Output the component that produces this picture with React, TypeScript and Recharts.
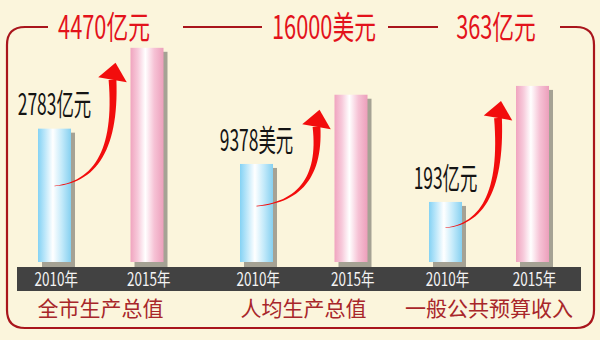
import React from 'react';
import { BarChart, Bar, XAxis, YAxis, LabelList } from 'recharts';

// ---- data ----
const years = ['2010年', '2015年'];
const groupNames = ['全市生产总值', '人均生产总值', '一般公共预算收入'];
const units = ['亿元', '美元', '亿元'];
const values2010 = [2783, 9378, 193];
const values2015 = [4470, 16000, 363];

// ---- layout ----
const W = 600;
const H = 340;
const BG = '#fbf5dc';
const FRAME = '#a9151c';
const TITLE_RED = '#e3121b';
const NAME_RED = '#a8262a';
const CJK = '"Noto Sans CJK SC", "Noto Sans", sans-serif';

// each group is its own little chart with its own value axis
const panels = [
  { left: 8, width: 185, domain: [0, 4800] as [number, number], titleX: 104 },
  { left: 209, width: 189, domain: [0, 22000] as [number, number], titleX: 324 },
  { left: 402, width: 174, domain: [105, 442] as [number, number], titleX: 496 },
];

const CHART_H = 300;
const MARGIN = { top: 32, right: 0, bottom: 8, left: 0 };

type Pt = { x: number; y: number };

function arrowPaths(p0: Pt, p1: Pt, p2: Pt, tip: Pt, headW: number) {
  const n = 30;
  const left: string[] = [];
  const right: string[] = [];
  for (let i = 0; i <= n; i++) {
    const t = i / n;
    const a = (1 - t) * (1 - t);
    const b = 2 * (1 - t) * t;
    const c = t * t;
    const x = a * p0.x + b * p1.x + c * p2.x;
    const y = a * p0.y + b * p1.y + c * p2.y;
    const dx = 2 * (1 - t) * (p1.x - p0.x) + 2 * t * (p2.x - p1.x);
    const dy = 2 * (1 - t) * (p1.y - p0.y) + 2 * t * (p2.y - p1.y);
    const len = Math.hypot(dx, dy) || 1;
    const nx = -dy / len;
    const ny = dx / len;
    const w = 0.3 + 3.6 * Math.pow(t, 1.3);
    left.push(`${(x + nx * w).toFixed(2)},${(y + ny * w).toFixed(2)}`);
    right.push(`${(x - nx * w).toFixed(2)},${(y - ny * w).toFixed(2)}`);
  }
  const body = `M${left.join(' L')} L${right.reverse().join(' L')} Z`;
  const ux = tip.x - p2.x;
  const uy = tip.y - p2.y;
  const ul = Math.hypot(ux, uy) || 1;
  const px = -uy / ul;
  const py = ux / ul;
  const head = `M${tip.x},${tip.y} L${p2.x + (px * headW) / 2},${p2.y + (py * headW) / 2} L${
    p2.x - (px * headW) / 2
  },${p2.y - (py * headW) / 2} Z`;
  return { body, head };
}

function makeBarShape(g: number, domainMin: number, step: number) {
  return (props: any) => {
    const { x, y, width, height, payload } = props;
    const is2015 = payload.year === years[1];
    const id = `bar-${g}-${is2015 ? 'b' : 'a'}`;
    const stops = is2015
      ? ['#f0a4bf', '#f7c9da', '#ffffff', '#f6c2d5', '#ec9fbb']
      : ['#84d2f4', '#bfe8fa', '#ffffff', '#c4eafa', '#86d0f0'];

    let arrow: React.ReactNode = null;
    if (is2015) {
      const base = y + height;
      const ppu = height / (payload.value - domainMin);
      const fromH = (payload.from - domainMin) * ppu;
      const p0 = { x: x + width / 2 - step, y: base - 0.57 * fromH };
      const tip = { x: x - 15, y: y + 15 };
      const p2 = { x: tip.x - 3, y: tip.y + 17 };
      const p1 = { x: p2.x + 6, y: p0.y - 6 };
      const { body, head } = arrowPaths(p0, p1, p2, tip, 29);
      arrow = (
        <g>
          <path d={body} fill="#f20d0d" />
          <path d={head} fill="#f20d0d" />
        </g>
      );
    }

    return (
      <g>
        <defs>
          <linearGradient id={id} x1="0" y1="0" x2="1" y2="0">
            <stop offset="0" stopColor={stops[0]} />
            <stop offset="0.22" stopColor={stops[1]} />
            <stop offset="0.45" stopColor={stops[2]} />
            <stop offset="0.72" stopColor={stops[3]} />
            <stop offset="1" stopColor={stops[4]} />
          </linearGradient>
        </defs>
        <rect x={x + 4} y={y + 4} width={width} height={height + 1} fill="#9b998c" opacity={0.9} />
        <rect x={x} y={y} width={width} height={height} fill={`url(#${id})`} />
        {arrow}
      </g>
    );
  };
}

const YearTick = (props: any) => {
  const { x, y, payload } = props;
  return (
    <text
      transform={`translate(${x + 2},${y + 17}) scale(0.75,1)`}
      textAnchor="middle"
      dominantBaseline="central"
      fontFamily={CJK}
      fontSize={18}
      fill="#f4f4f4"
    >
      {payload.value}
    </text>
  );
};

const NoteLabel = (props: any) => {
  const { x, y, width, value } = props;
  if (!value) return null;
  return (
    <text
      transform={`translate(${x + width / 2},${y - 26}) scale(0.58,1)`}
      textAnchor="middle"
      dominantBaseline="central"
      fontFamily={CJK}
      fontSize={30}
      fill="#141414"
    >
      {value}
    </text>
  );
};

function framePath() {
  const l = 7;
  const r = 594;
  const t = 27;
  const b = 328;
  const rad = 18;
  return [
    `M48,${t} L${l + rad},${t} Q${l},${t} ${l},${t + rad} L${l},${b - rad} Q${l},${b} ${l + rad},${b}`,
    `L${r - rad},${b} Q${r},${b} ${r},${b - rad} L${r},${t + rad} Q${r},${t} ${r - rad},${t} L560,${t}`,
    `M183,${t} L262,${t}`,
    `M388,${t} L438,${t}`,
  ].join(' ');
}

export default function App() {
  return (
    <div style={{ position: 'absolute', left: 0, top: 0, width: W, height: H, background: BG, overflow: 'hidden' }}>
      <svg width={W} height={H} style={{ position: 'absolute', left: 0, top: 0 }}>
        <path d={framePath()} fill="none" stroke={FRAME} strokeWidth={2.2} />
        <rect x={17} y={267} width={564} height={24} fill="#424242" />
        {panels.map((p, i) => (
          <text
            key={`t${i}`}
            transform={`translate(${p.titleX},25) scale(0.68,1)`}
            textAnchor="middle"
            dominantBaseline="central"
            fontFamily={CJK}
            fontSize={32}
            fill={TITLE_RED}
          >
            {`${values2015[i]}${units[i]}`}
          </text>
        ))}
        {panels.map((p, i) => (
          <text
            key={`n${i}`}
            x={p.left + p.width / 2}
            y={307}
            textAnchor="middle"
            dominantBaseline="central"
            fontFamily={CJK}
            fontSize={21}
            fill={NAME_RED}
          >
            {groupNames[i]}
          </text>
        ))}
      </svg>
      {panels.map((p, i) => {
        const rows = [
          { year: years[0], value: values2010[i], note: `${values2010[i]}${units[i]}`, from: 0 },
          { year: years[1], value: values2015[i], note: '', from: values2010[i] },
        ];
        const plotW = p.width - MARGIN.left - MARGIN.right;
        return (
          <div key={i} style={{ position: 'absolute', left: p.left, top: 0 }}>
            <BarChart width={p.width} height={CHART_H} data={rows} margin={MARGIN}>
              <XAxis
                dataKey="year"
                height={30}
                axisLine={false}
                tickLine={false}
                tickSize={0}
                tickMargin={0}
                interval={0}
                tick={<YearTick />}
              />
              <YAxis hide domain={p.domain} />
              <Bar
                dataKey="value"
                barSize={33}
                isAnimationActive={false}
                shape={makeBarShape(i, p.domain[0], plotW / 2)}
              >
                <LabelList dataKey="note" content={<NoteLabel />} />
              </Bar>
            </BarChart>
          </div>
        );
      })}
    </div>
  );
}
